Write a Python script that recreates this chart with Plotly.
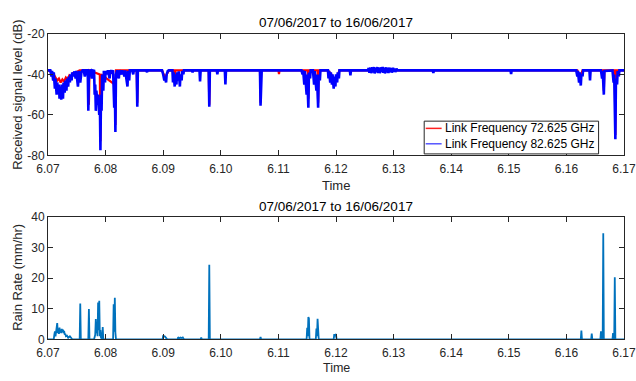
import plotly.graph_objects as go

title_text = "07/06/2017 to 16/06/2017"
name_72 = "Link Frequency 72.625 GHz"
name_82 = "Link Frequency 82.625 GHz"

# Received signal level, 82.625 GHz link (blue)
t82 = [6.0700, 6.0704, 6.0706, 6.0707, 6.0709, 6.0710, 6.0712, 6.0713, 6.0715, 6.0716,
       6.0718, 6.0719, 6.0720, 6.0721, 6.0723, 6.0724, 6.0726, 6.0727, 6.0729, 6.0730,
       6.0732, 6.0733, 6.0735, 6.0736, 6.0738, 6.0739, 6.0741, 6.0742, 6.0744, 6.0746,
       6.0748, 6.0749, 6.0752, 6.0754, 6.0756, 6.0758, 6.0760,
       6.0762, 6.0764, 6.0766, 6.0769, 6.0770, 6.0771, 6.0774, 6.0776, 6.0777, 6.0780,
       6.0781, 6.0782, 6.0783, 6.0784, 6.0786, 6.0787, 6.0789, 6.0790, 6.0791, 6.0792,
       6.0793, 6.0794, 6.0796, 6.0797, 6.0799, 6.0800, 6.0802, 6.0804, 6.0807, 6.0808,
       6.0811, 6.0813, 6.0815, 6.0816, 6.0817, 6.0818, 6.0820, 6.0823, 6.0824, 6.0827,
       6.0829, 6.0833, 6.0834, 6.0838, 6.0839, 6.0841, 6.0842, 6.0846, 6.0848, 6.0849,
       6.0854, 6.0855, 6.0856, 6.0870, 6.0872, 6.0873, 6.0898, 6.0900, 6.0902, 6.0903,
       6.0905, 6.0906, 6.0908, 6.0910, 6.0916, 6.0917, 6.0918, 6.0920, 6.0921, 6.0923,
       6.0924, 6.0926, 6.0927, 6.0929, 6.0930, 6.0932, 6.0933, 6.0935, 6.0936, 6.0950,
       6.0951, 6.0952, 6.0963, 6.0964, 6.0965, 6.0979, 6.0980, 6.0981, 6.0993, 6.0994,
       6.0995, 6.1007, 6.1008, 6.1009, 6.1068, 6.1069, 6.1070, 6.1071, 6.1140, 6.1142,
       6.1143, 6.1145, 6.1146, 6.1149, 6.1150, 6.1152, 6.1153, 6.1155, 6.1156, 6.1160,
       6.1162, 6.1163, 6.1166, 6.1167, 6.1169, 6.1170, 6.1172, 6.1173, 6.1186, 6.1187,
       6.1188, 6.1190, 6.1191, 6.1193, 6.1194, 6.1196, 6.1197, 6.1199, 6.1200, 6.1202,
       6.1203, 6.1205, 6.1206, 6.1224, 6.1225, 6.1226, 6.1255, 6.1257, 6.1258, 6.1260,
       6.1261, 6.1263, 6.1264, 6.1266, 6.1267, 6.1269, 6.1270, 6.1272, 6.1273, 6.1275,
       6.1276, 6.1278, 6.1279, 6.1281, 6.1282, 6.1284, 6.1285, 6.1287, 6.1288, 6.1290,
       6.1291, 6.1293, 6.1294, 6.1296, 6.1297, 6.1299, 6.1300, 6.1302, 6.1303, 6.1305,
       6.1307, 6.1368, 6.1369, 6.1370, 6.1503, 6.1504,
       6.1505, 6.1617, 6.1619, 6.1620, 6.1622, 6.1623, 6.1625, 6.1626, 6.1628, 6.1629,
       6.1640, 6.1641, 6.1642, 6.1660, 6.1662, 6.1663, 6.1665, 6.1666, 6.1680, 6.1682,
       6.1683, 6.1685, 6.1686, 6.1688, 6.1689, 6.1691, 6.1692, 6.1700]
s82 = [-38, -38, -41, -38.2, -43, -39, -47, -42, -50, -44,
       -49, -45, -52, -46, -52.5, -45, -52, -44, -49, -43,
       -48, -42, -46, -41, -44, -40, -43, -39, -41, -38.5,
       -42, -38.2, -46, -38.2, -44, -39, -38,
       -38, -41, -38, -38, -58, -38.2, -38, -42, -38, -38.2,
       -50, -45, -58, -48, -55, -50, -60, -52, -77.5, -50,
       -58, -40, -48, -38.2, -44, -38.2, -40, -38, -42, -38,
       -39, -38, -56.5, -45, -68.5, -40, -38, -42, -38, -40,
       -38, -41, -38, -46, -38.2, -43, -38, -38, -40, -38,
       -38, -56, -38, -38, -38.8, -38, -38, -40, -43, -41,
       -44, -40, -38.3, -38, -38, -44, -39, -46, -40, -45,
       -39, -43, -38.5, -46, -40, -43, -38.3, -40, -38, -38,
       -39, -38, -38, -43.5, -38, -38, -56, -38, -38, -40,
       -38, -38, -45, -38, -38, -55.5, -40, -38, -38, -40,
       -38, -45, -38.3, -50, -40, -56.5, -39, -42, -38, -38,
       -45, -38.3, -48, -40, -56.5, -40, -43, -38, -38, -42,
       -38.3, -44, -39, -45, -40, -47, -41, -46, -40, -44,
       -39, -42, -38, -38, -40.5, -38, -38, -36.9, -39.2, -36.6,
       -39.4, -36.5, -39, -36.4, -39.5, -36.7, -38.9, -36.4, -39.3, -36.6,
       -39.4, -36.5, -38.8, -36.3, -39.2, -36.6, -39.5, -36.5, -39, -36.7,
       -39.3, -36.6, -38.9, -36.8, -39.1, -36.7, -38.7, -37, -38.8, -37.2,
       -38, -38, -39.3, -38, -38, -39.8,
       -38, -38, -41, -38.3, -44, -39, -45.5, -40, -41, -38,
       -38, -43, -38, -38, -42, -38.3, -50, -38.3, -38, -44,
       -40, -72, -42, -45, -38.3, -41, -38, -38]

# Received signal level, 72.625 GHz link (red)
t72 = [6.0700, 6.0705, 6.0710, 6.0713, 6.0716, 6.0719, 6.0722, 6.0725, 6.0728, 6.0731,
       6.0734, 6.0737, 6.0740, 6.0743, 6.0746, 6.0750, 6.0755, 6.0770, 6.0771, 6.0772,
       6.0790, 6.0791, 6.0792, 6.0816, 6.0817, 6.0818, 6.0854, 6.0855, 6.0856, 6.0898,
       6.0901, 6.0903, 6.0905, 6.0907, 6.0910, 6.0919, 6.0920, 6.0921, 6.0979, 6.0980,
       6.0981, 6.1068, 6.1069, 6.1070, 6.1100, 6.1101, 6.1102, 6.1151, 6.1152, 6.1153,
       6.1168, 6.1169, 6.1170, 6.1186, 6.1192, 6.1196, 6.1199, 6.1202, 6.1206, 6.1619,
       6.1622, 6.1625, 6.1628, 6.1664, 6.1665, 6.1666, 6.1684, 6.1685, 6.1686, 6.1700]
s72 = [-38, -38.5, -40, -41.5, -43, -42, -44, -42.5, -43.5, -41.5,
       -42.5, -40.5, -41.5, -39.5, -40, -38.8, -38, -38, -55, -38,
       -40, -73, -40, -45, -65, -38, -38, -54, -38, -38,
       -40, -41.5, -40.5, -39.5, -38, -38, -42, -38, -38, -55,
       -38, -38, -54, -38, -38, -39.8, -38, -38, -52, -38,
       -38, -54, -38, -38, -40, -42.5, -41.5, -41, -38, -38,
       -39.8, -40.5, -38, -38, -48, -38, -38, -70, -38, -38]

# Rain rate (mm/hr)
t_rain = [6.0700, 6.0710, 6.0711, 6.0712, 6.0713, 6.0714, 6.0716, 6.0717, 6.0718, 6.0719,
          6.0720, 6.0721, 6.0722, 6.0723, 6.0724, 6.0725, 6.0726, 6.0727, 6.0728, 6.0729,
          6.0730, 6.0731, 6.0733, 6.0735, 6.0737, 6.0738, 6.0740, 6.0742, 6.0755, 6.0756,
          6.0757, 6.0770, 6.0771, 6.0772, 6.0780, 6.0781, 6.0782, 6.0783, 6.0784, 6.0785,
          6.0786, 6.0787, 6.0788, 6.0789, 6.0790, 6.0791, 6.0792, 6.0794, 6.0795, 6.0796,
          6.0813, 6.0814, 6.0815, 6.0816, 6.0817, 6.0818, 6.0899, 6.0900, 6.0901, 6.0903,
          6.0905, 6.0907, 6.0925, 6.0926, 6.0928, 6.0930, 6.0932, 6.0934, 6.0936, 6.0965,
          6.0966, 6.0967, 6.0979, 6.0980, 6.0981, 6.1068, 6.1069, 6.1070, 6.1149, 6.1150,
          6.1151, 6.1152, 6.1153, 6.1154, 6.1165, 6.1166, 6.1167, 6.1168, 6.1169, 6.1170,
          6.1196, 6.1197, 6.1198, 6.1199, 6.1200, 6.1201, 6.1625, 6.1626, 6.1627, 6.1643,
          6.1644, 6.1645, 6.1659, 6.1660, 6.1661, 6.1663, 6.1664, 6.1665, 6.1680, 6.1681,
          6.1682, 6.1683, 6.1684, 6.1685, 6.1700]
rain = [0, 0, 1.5, 2.6, 1, 2.5, 5.3, 2, 3.5, 1.8,
        3.8, 2.2, 3.2, 2, 3.4, 2.5, 3.2, 2, 2.8, 1.5,
        1.8, 1, 1.2, 0.5, 0.8, 1, 0.5, 0, 0, 11.7,
        0, 0, 9.9, 0, 0, 1, 1.5, 6.6, 2, 4,
        1, 12, 3, 12.6, 1, 3, 0.5, 0, 4, 0,
        0, 11.5, 2.5, 13.6, 2.2, 0, 0, 1.3, 1.1, 0.9,
        0.5, 0, 0, 0.7, 0.3, 0.6, 0.4, 0.6, 0, 0,
        0.6, 0, 0, 24.4, 0, 0, 0.8, 0, 0, 3.8,
        1, 7.3, 6.8, 0, 0, 3.5, 1, 6.7, 0.5, 0,
        0, 1.7, 1, 1.7, 1.5, 0, 0, 2.9, 0, 0,
        1.9, 0, 0, 2.6, 0, 0, 34.7, 0, 0, 2,
        1.5, 0, 20.3, 0, 0]

x_ticks = [6.07, 6.08, 6.09, 6.10, 6.11, 6.12, 6.13, 6.14, 6.15, 6.16, 6.17]
x_ticklabels = ["6.07", "6.08", "6.09", "6.10", "6.11", "6.12", "6.13", "6.14", "6.15", "6.16", "6.17"]
sig_ticks = [-80, -60, -40, -20]
sig_ticklabels = ["-80", "-60", "-40", "-20"]
rain_ticks = [0, 10, 20, 30, 40]
rain_ticklabels = ["0", "10", "20", "30", "40"]

FONT = "Liberation Sans, Arial, Helvetica, sans-serif"
AX = "#262626"
W, H = 636, 381
L, R = 48, 10
PW = W - L - R

def px_x(p):
    return (p - L) / PW

def px_y(p):
    return 1 - p / H

fig = go.Figure()
fig.add_trace(go.Scatter(x=t72, y=s72, mode="lines", name=name_72,
                         line=dict(color="#FF0000", width=2.2), xaxis="x", yaxis="y"))
fig.add_trace(go.Scatter(x=t82, y=s82, mode="lines", name=name_82,
                         line=dict(color="#0000FF", width=2.6), xaxis="x", yaxis="y"))
fig.add_trace(go.Scatter(x=t_rain, y=rain, mode="lines", showlegend=False,
                         line=dict(color="#0072BD", width=1.8), xaxis="x2", yaxis="y2"))

axis_common = dict(showline=True, linecolor=AX, linewidth=1, mirror="ticks",
                   ticks="inside", ticklen=5, tickcolor=AX, showgrid=False, zeroline=False,
                   tickfont=dict(family=FONT, size=12, color=AX))
xaxis_extra = dict(ticklabelstandoff=2, ticklabeloverflow="allow")

fig.update_layout(
    width=W, height=H,
    margin=dict(l=L, r=R, t=0, b=0),
    paper_bgcolor="white", plot_bgcolor="white",
    font=dict(family=FONT, size=12, color=AX),
    showlegend=False,
    xaxis=dict(domain=[0, 1], anchor="y", range=[6.07, 6.17], tickvals=x_ticks,
               ticktext=x_ticklabels, **axis_common, **xaxis_extra),
    yaxis=dict(domain=[px_y(154), px_y(28)], anchor="x", range=[-80, -20],
               tickvals=sig_ticks, ticktext=sig_ticklabels, **axis_common),
    xaxis2=dict(domain=[0, 1], anchor="y2", range=[6.07, 6.17], tickvals=x_ticks,
                ticktext=x_ticklabels, **axis_common, **xaxis_extra),
    yaxis2=dict(domain=[px_y(345), px_y(218)], anchor="x2", range=[0, 40],
                tickvals=rain_ticks, ticktext=rain_ticklabels, **axis_common),
)

# Legend box (drawn so it matches the compact reference legend)
fig.add_shape(type="rect", xref="paper", yref="paper",
              x0=px_x(425.5), x1=px_x(600.5), y0=px_y(152.5), y1=px_y(118.5),
              line=dict(color=AX, width=1), fillcolor="white", layer="above")
legend_items = [(name_72, "#FF2020", 126), (name_82, "#5555FF", 142)]
for label, col, yp in legend_items:
    fig.add_shape(type="line", xref="paper", yref="paper",
                  x0=px_x(427), x1=px_x(443), y0=px_y(yp), y1=px_y(yp),
                  line=dict(color=col, width=1.5), layer="above")
    fig.add_annotation(text=label, x=px_x(444), y=px_y(yp), xref="paper", yref="paper",
                       showarrow=False, xanchor="left", yanchor="middle",
                       font=dict(family=FONT, size=12, color="#000"))

ann = [
    dict(text=title_text, x=0.5, y=px_y(16), size=13.5, color="#000"),
    dict(text=title_text, x=0.5, y=px_y(207), size=13.5, color="#000"),
    dict(text="Time", x=0.5, y=px_y(185), size=13, color=AX),
    dict(text="Time", x=0.5, y=px_y(374.5), size=12.5, color=AX),
]
for a in ann:
    fig.add_annotation(text=a["text"], x=a["x"], y=a["y"], xref="paper", yref="paper",
                       showarrow=False, xanchor="center", yanchor="middle",
                       font=dict(family=FONT, size=a["size"], color=a["color"]))
fig.add_annotation(text="Received signal level (dB)", x=px_x(18), y=px_y(91), xref="paper",
                   yref="paper", showarrow=False, textangle=-90, xanchor="center",
                   yanchor="middle", font=dict(family=FONT, size=13, color=AX))
fig.add_annotation(text="Rain Rate (mm/hr)", x=px_x(18), y=px_y(281), xref="paper",
                   yref="paper", showarrow=False, textangle=-90, xanchor="center",
                   yanchor="middle", font=dict(family=FONT, size=13, color=AX))

fig.write_html("out.html")
